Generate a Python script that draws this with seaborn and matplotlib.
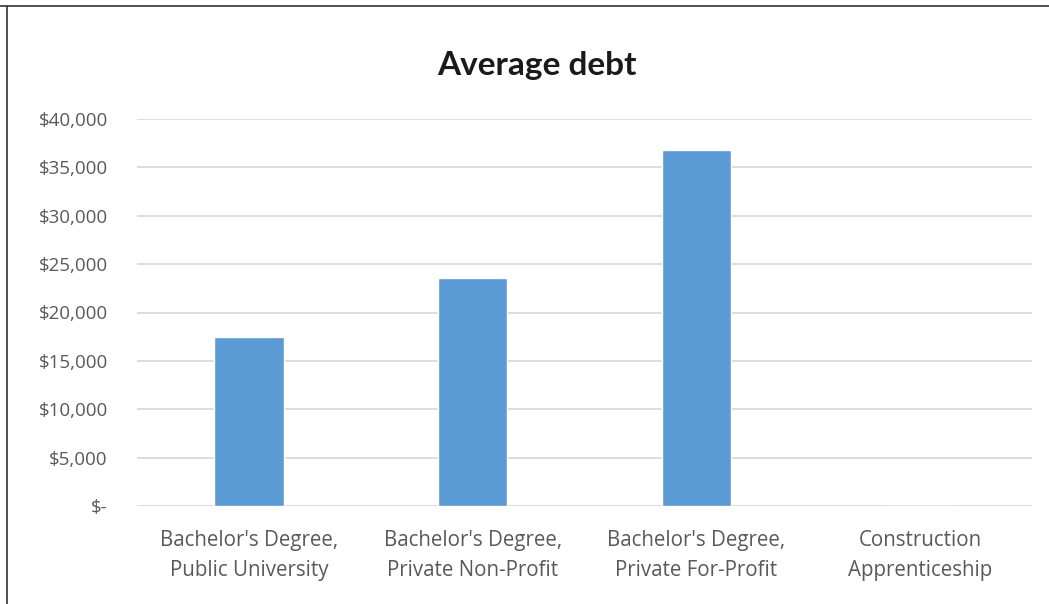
import matplotlib
matplotlib.use("Agg")
import matplotlib.pyplot as plt
import seaborn as sns
import pandas as pd
from matplotlib.lines import Line2D
from matplotlib.ticker import FuncFormatter, MultipleLocator

categories = ["Bachelor's Degree,\nPublic University",
              "Bachelor's Degree,\nPrivate Non-Profit",
              "Bachelor's Degree,\nPrivate For-Profit",
              "Construction\nApprenticeship"]
debt = [17500, 23600, 36800, 0]

df = pd.DataFrame({"category": categories, "debt": debt})

sns.set_style("white")
plt.rcParams['font.family'] = ['Open Sans', 'DejaVu Sans']

fig = plt.figure(figsize=(10.49, 6.04), dpi=100)
W, H = 1049, 604
ax = fig.add_axes([137 / W, 1 - 506 / H, (1032 - 137) / W, (506 - 119) / H])

sns.barplot(data=df, x="category", y="debt", color="#5B9BD5", width=0.31,
            saturation=1, ax=ax, zorder=3)

ax.set_ylim(0, 40000)
ax.set_xlim(-0.5, 3.5)
ax.yaxis.set_major_locator(MultipleLocator(5000))
ax.yaxis.set_major_formatter(FuncFormatter(lambda v, p: "$-" if v == 0 else f"${v:,.0f}"))
ax.grid(axis="y", color="#D9D9D9", linewidth=1.3, zorder=0)
ax.grid(axis="x", visible=False)
for s in ax.spines.values():
    s.set_visible(False)
ax.set_xlabel("")
ax.set_ylabel("")
ax.tick_params(axis="y", length=0, labelsize=13.5, labelcolor="#595959", pad=21)
ax.tick_params(axis="x", length=0, labelsize=14.8, labelcolor="#595959", pad=17)
for lbl in ax.get_yticklabels():
    lbl.set_horizontalalignment("right")
for lbl in ax.get_xticklabels():
    lbl.set_linespacing(1.6)

fig.text(537 / W, 1 - 65 / H, "Average debt", ha="center", va="center",
         fontsize=24, fontweight="bold", color="#1a1a1a",
         family=['Lato', 'DejaVu Sans'])

# outer frame (top and left edges visible)
fig.add_artist(Line2D([0, 1], [1 - 5.5 / H, 1 - 5.5 / H], transform=fig.transFigure,
                      color="#333333", linewidth=1.2))
fig.add_artist(Line2D([7 / W, 7 / W], [0, 1 - 5.5 / H], transform=fig.transFigure,
                      color="#333333", linewidth=1.2))

fig.savefig("out.png", dpi=100, facecolor="white")
